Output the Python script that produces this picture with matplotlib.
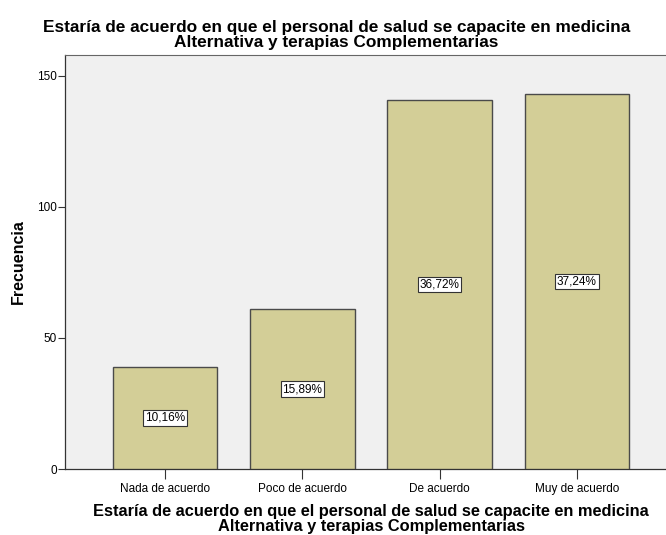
import matplotlib.pyplot as plt

plt.rcParams['font.family'] = ['Liberation Sans', 'DejaVu Sans']

categorias = ["Nada de acuerdo", "Poco de acuerdo", "De acuerdo", "Muy de acuerdo"]
frecuencias = [39, 61, 141, 143]
porcentajes = ["10,16%", "15,89%", "36,72%", "37,24%"]

titulo = ("Estaría de acuerdo en que el personal de salud se capacite en medicina\n"
          "Alternativa y terapias Complementarias")

fig = plt.figure(figsize=(6.66, 5.35), dpi=100)
fig.patch.set_facecolor('white')

# axes extends past the right edge like in the original export
ax = fig.add_axes([65 / 666, 1 - 469 / 535, 612 / 666, 414 / 535])
ax.set_facecolor('#F0F0F0')

x = list(range(len(categorias)))
ax.bar(x, frecuencias, width=0.76, color='#D3CE97', edgecolor='#4A4A4A', linewidth=1.0, zorder=3)

for xi, f, p in zip(x, frecuencias, porcentajes):
    ax.text(xi, f / 2, p, ha='center', va='center', fontsize=8.5, zorder=4,
            bbox=dict(boxstyle='square,pad=0.15', facecolor='white', edgecolor='#333333', linewidth=0.8))

ax.set_xlim(-0.73, 3.73)
ax.set_ylim(0, 158)
ax.set_yticks([0, 50, 100, 150])
ax.set_xticks(x)
ax.set_xticklabels(categorias, fontsize=8.5)
ax.tick_params(axis='y', labelsize=8.5, length=5, width=0.8, color='#333333', pad=1)
ax.tick_params(axis='x', length=7, width=0.8, color='#333333', pad=3)

for side in ['left', 'bottom']:
    ax.spines[side].set_color('#333333')
    ax.spines[side].set_linewidth(0.9)
ax.spines['top'].set_color('#666666')
ax.spines['right'].set_visible(False)

ax.set_ylabel('Frecuencia', fontsize=11.5, fontweight='bold', labelpad=8)

# eje x: mismo texto que el título, centrado sobre el área del gráfico
fig.text(371 / 666, 1 - 519 / 535, titulo, ha='center', va='center', fontsize=11.8,
         fontweight='bold', linespacing=0.92)

fig.text(0.505, 1 - 35 / 535, titulo, ha='center', va='center', fontsize=12.4,
         fontweight='bold', linespacing=1.0)

fig.savefig('out.png', dpi=100, facecolor=fig.get_facecolor())
